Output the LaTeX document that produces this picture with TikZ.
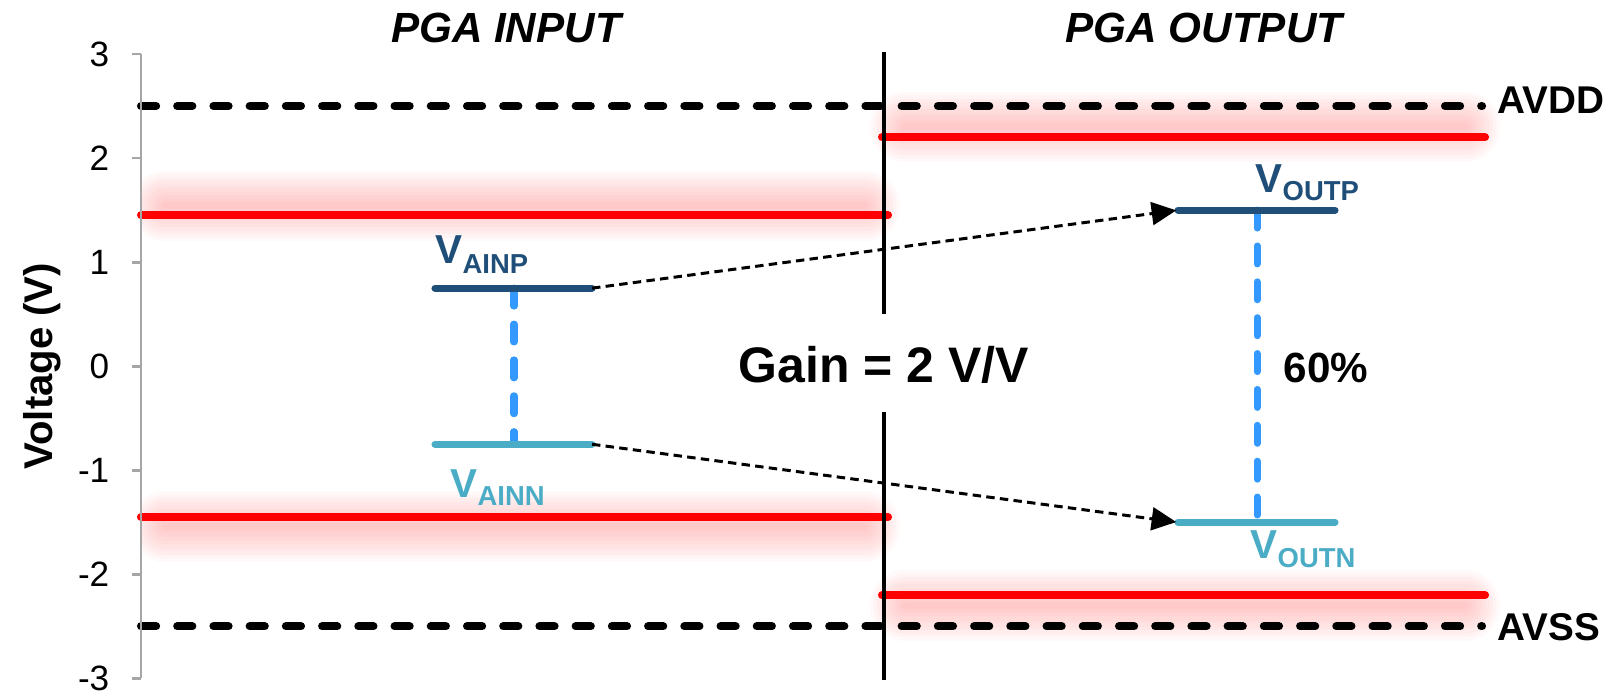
\documentclass[tikz,border=0pt]{standalone}
\usepackage{fontspec}
\setmainfont{Liberation Sans}
\usetikzlibrary{arrows.meta}
\definecolor{railred}{HTML}{FF0000}
\definecolor{ainpblue}{HTML}{1F4E79}
\definecolor{ainnteal}{HTML}{4BACC6}
\definecolor{spanblue}{HTML}{3399FF}
\definecolor{axisgray}{HTML}{A6A6A6}
\newcommand{\vname}[2]{V\raisebox{-#2}{\fontsize{7.8}{8}\selectfont #1}}

\begin{document}
\begin{tikzpicture}[x=0.01cm, y=1.04cm,
  rail/.style={railred, line width=2.3pt, line cap=round},
  supply/.style={black, line width=2.3pt, line cap=round, dash pattern=on 4.3pt off 6pt},
  glowline/.style={railred, opacity=0.025, line cap=round},
  bar/.style={line width=2pt, line cap=round},
  span/.style={spanblue, line width=2pt, line cap=round, dash pattern=on 5.1pt off 5.1pt},
  arrow/.style={-{Triangle[length=7pt,width=6.5pt]}, line width=0.85pt, dash pattern=on 2.4pt off 1.5pt, shorten >=0.5pt},
  ticklab/.style={font=\fontsize{10}{12}\selectfont, anchor=east, inner sep=0pt},
  head/.style={font=\fontsize{12}{14}\selectfont\bfseries\itshape, anchor=base, inner sep=0pt},
  vlab/.style={font=\fontsize{11.5}{13}\selectfont\bfseries, anchor=base west, inner sep=0pt},
  rlab/.style={font=\fontsize{11}{13}\selectfont\bfseries, anchor=base west, inner sep=0pt}
]
  \useasboundingbox (0,-3.1731) rectangle (1616,3.5192);

  % Glow behind the rails
  \begin{scope}
    \clip (141,-3.2) rectangle (1616,3.6);
    \foreach \w in {2,4,...,20} {
      \draw[glowline, line width=\w pt] (165,1.54) -- (865,1.54);
      \draw[glowline, line width=\w pt] (165,-1.54) -- (865,-1.54);
      \draw[glowline, line width=\w pt] (905,2.3) -- (1465,2.3);
      \draw[glowline, line width=\w pt] (905,-2.3) -- (1465,-2.3);
    }
  \end{scope}

  % Supply limits
  \coordinate (avddL) at (141,2.5);
  \coordinate (avddR) at (1482,2.5);
  \coordinate (avssL) at (141,-2.5);
  \coordinate (avssR) at (1482,-2.5);
  \draw[supply] (avddL) -- (avddR);
  \draw[supply] (avssL) -- (avssR);
  \node[rlab] (avdd) at (1497,2.433) {AVDD};
  \node[rlab] (avss) at (1497,-2.635) {AVSS};

  % Input and output ranges
  \coordinate (inTopL) at (141,1.45);
  \coordinate (inTopR) at (888,1.45);
  \coordinate (inBotL) at (141,-1.45);
  \coordinate (inBotR) at (888,-1.45);
  \coordinate (outTopL) at (882,2.2);
  \coordinate (outTopR) at (1485,2.2);
  \coordinate (outBotL) at (882,-2.2);
  \coordinate (outBotR) at (1485,-2.2);
  \draw[rail] (inTopL) -- (inTopR);
  \draw[rail] (inBotL) -- (inBotR);
  \draw[rail] (outTopL) -- (outTopR);
  \draw[rail] (outBotL) -- (outBotR);

  % Divider with gap for the gain
  \coordinate (divTop) at (884,3.02);
  \coordinate (gapTop) at (884,0.5);
  \coordinate (gapBot) at (884,-0.44);
  \coordinate (divBot) at (884,-3.02);
  \draw[line width=1.4pt] (divTop) -- (gapTop);
  \draw[line width=1.4pt] (gapBot) -- (divBot);
  \node[font=\fontsize{14.2}{16}\selectfont\bfseries, anchor=base, inner sep=0pt] (gain) at (884,-0.154) {Gain = 2 V/V};

  % Axis
  \draw[axisgray, line width=0.8pt] (141,-3) -- (141,3);
  \foreach \v in {-3,...,3} {
    \draw[axisgray, line width=0.8pt] (132,\v) -- (141,\v);
    \node[ticklab] (t\v) at (110,\v) {\v};
  }
  \node[font=\fontsize{11.4}{13}\selectfont\bfseries, rotate=90, inner sep=0pt] (ylab) at (42,0) {Voltage (V)};

  % Headings
  \node[head] (hin) at (506,3.115) {PGA INPUT};
  \node[head] (hout) at (1204,3.115) {PGA OUTPUT};

  % Input signal
  \coordinate (ainpL) at (435,0.75);
  \coordinate (ainpR) at (592,0.75);
  \coordinate (ainpM) at (514,0.75);
  \coordinate (ainnL) at (435,-0.75);
  \coordinate (ainnR) at (592,-0.75);
  \coordinate (ainnM) at (514,-0.75);
  \draw[span] (ainpM) -- (ainnM);
  \draw[bar, ainpblue] (ainpL) -- (ainpR);
  \draw[bar, ainnteal] (ainnL) -- (ainnR);
  \node[vlab, ainpblue] (lainp) at (435,0.99) {\vname{AINP}{2.8pt}};
  \node[vlab, ainnteal] (lainn) at (450,-1.26) {\vname{AINN}{2.3pt}};

  % Output signal
  \coordinate (outpL) at (1178,1.5);
  \coordinate (outpR) at (1335,1.5);
  \coordinate (outpM) at (1257,1.5);
  \coordinate (outnL) at (1178,-1.5);
  \coordinate (outnR) at (1335,-1.5);
  \coordinate (outnM) at (1257,-1.5);
  \draw[span] (outpM) -- (outnM);
  \draw[bar, ainpblue] (outpL) -- (outpR);
  \draw[bar, ainnteal] (outnL) -- (outnR);
  \node[vlab, ainpblue] (loutp) at (1255,1.673) {\vname{OUTP}{2.3pt}};
  \node[vlab, ainnteal] (loutn) at (1250,-1.846) {\vname{OUTN}{2.5pt}};
  \node[font=\fontsize{12}{14}\selectfont\bfseries, anchor=base west, inner sep=0pt] (pct) at (1283,-0.154) {60\%};

  % Gain mapping
  \draw[arrow] (ainpR) -- (outpL);
  \draw[arrow] (ainnR) -- (outnL);
\end{tikzpicture}
\end{document}
